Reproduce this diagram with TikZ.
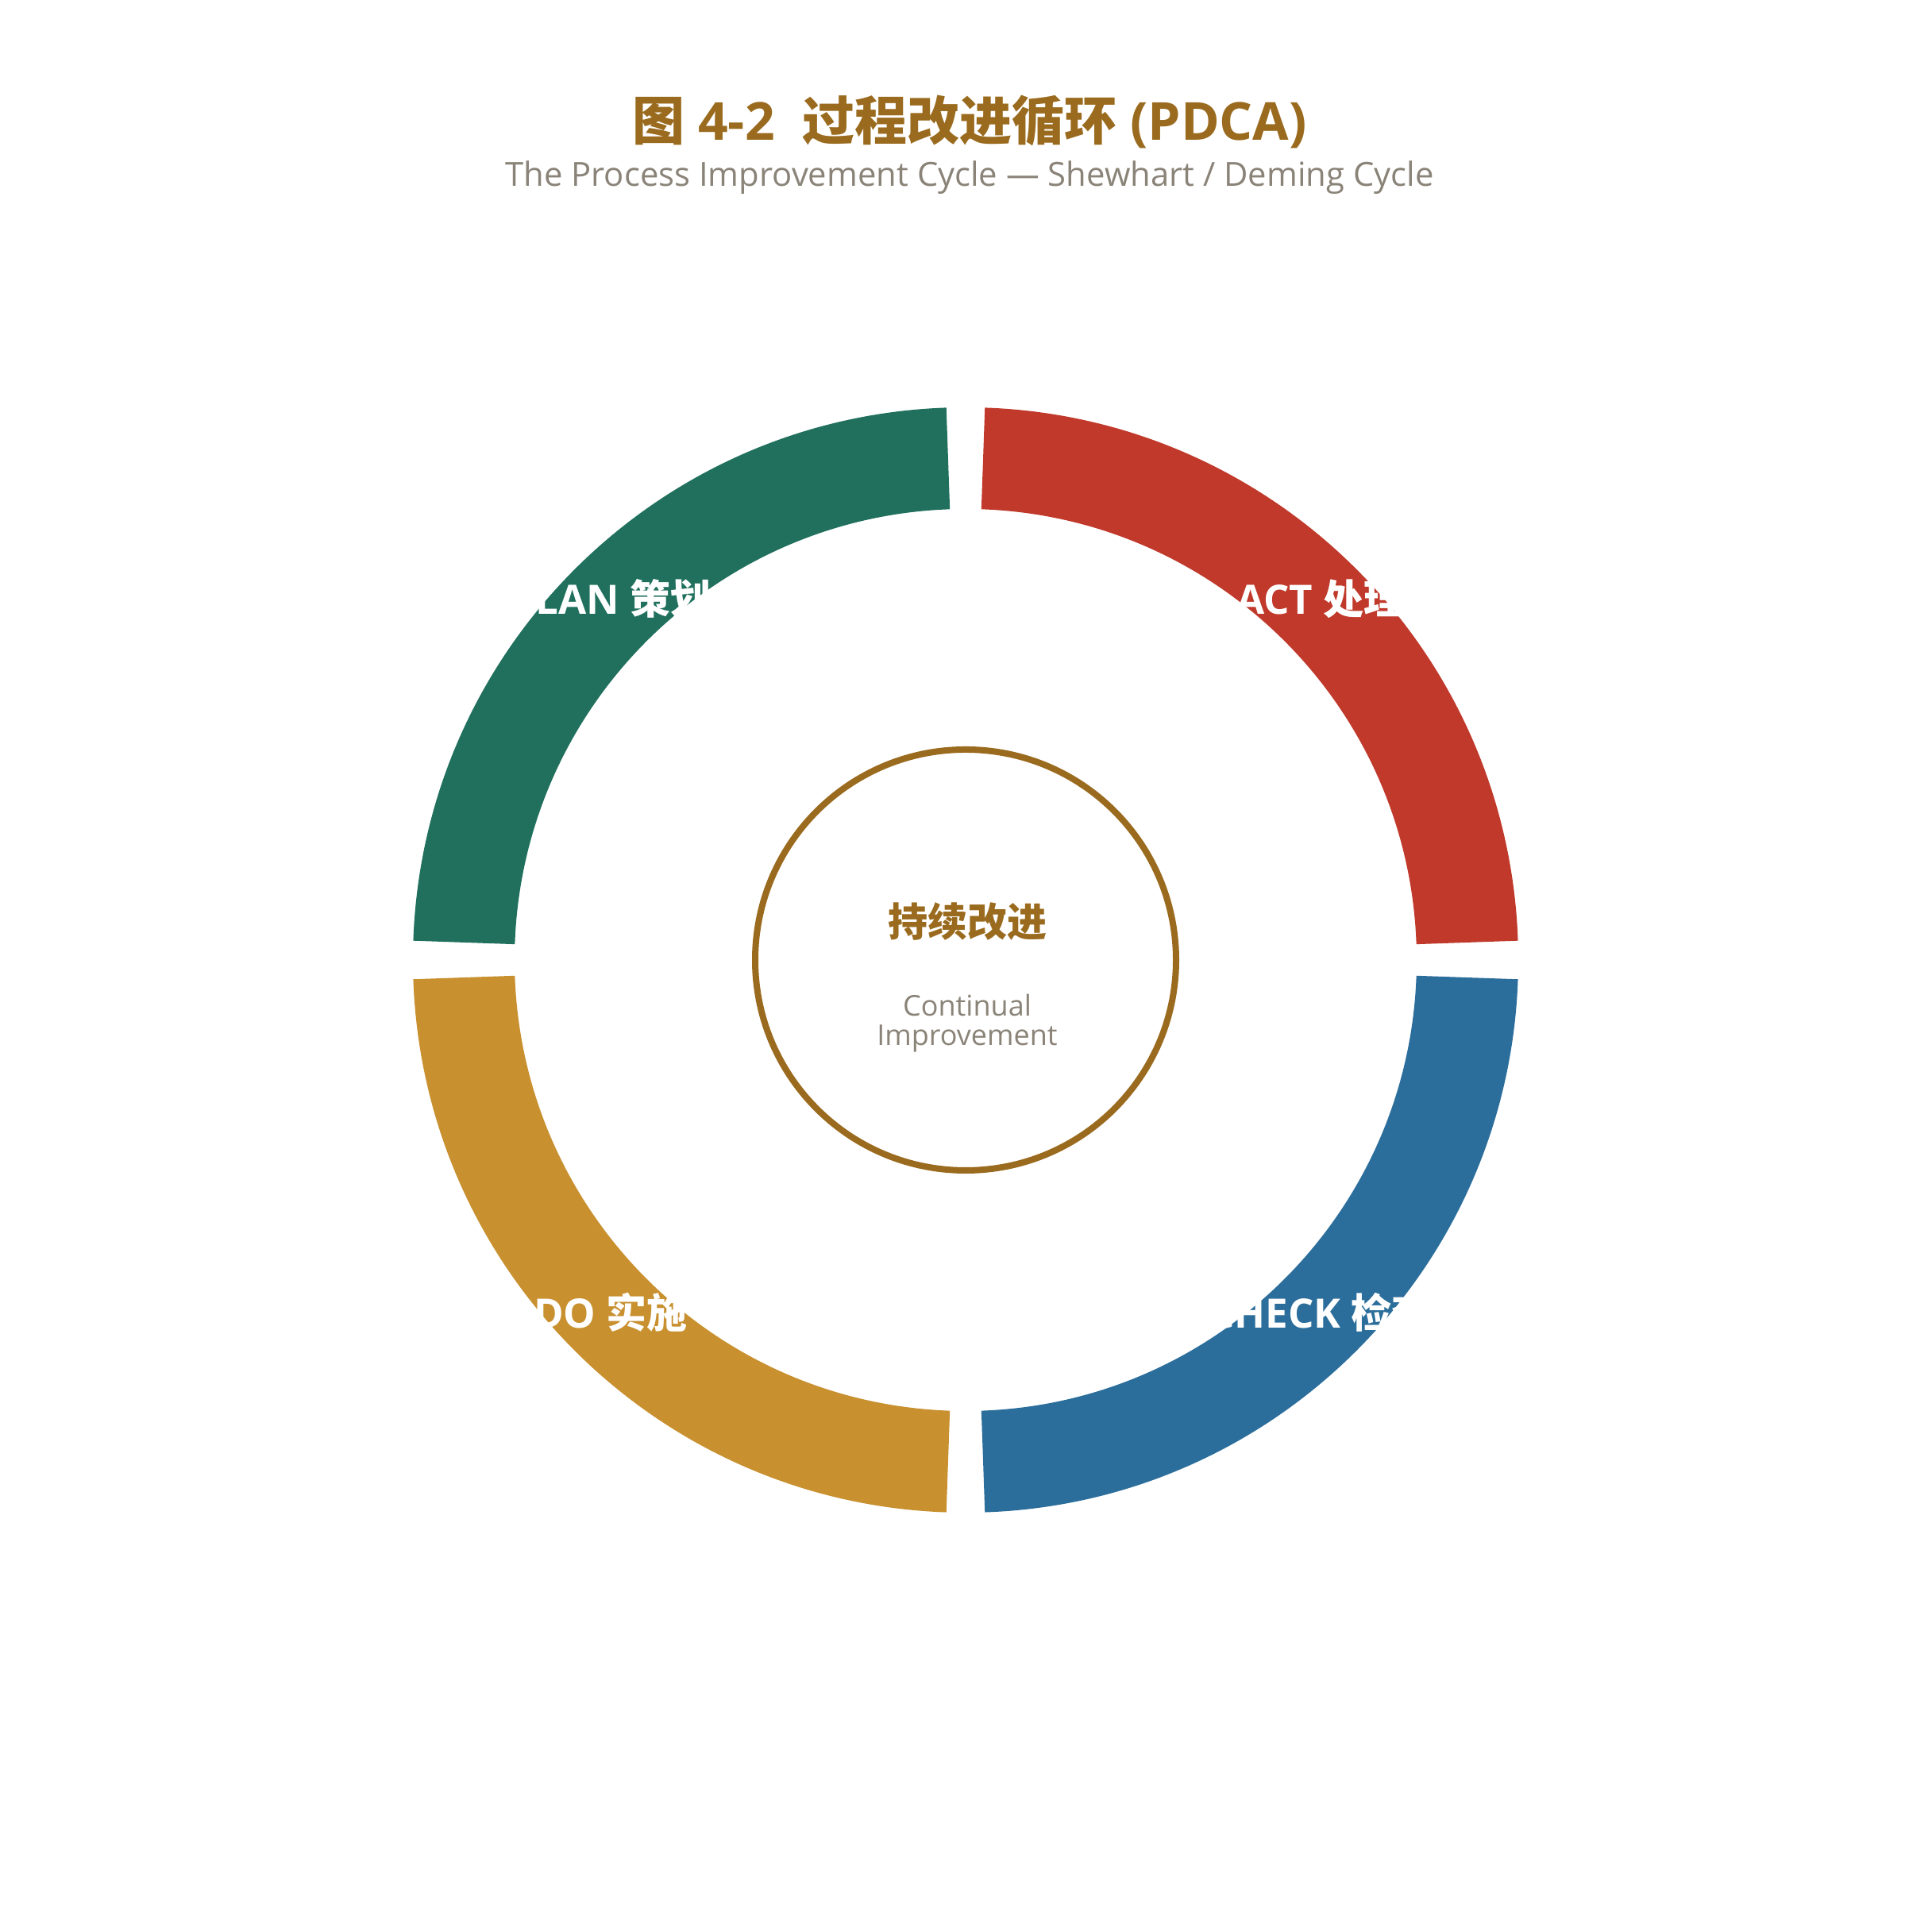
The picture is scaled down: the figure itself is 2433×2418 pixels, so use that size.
\documentclass[tikz,border=0pt]{standalone}
\usepackage{fontspec}
\setmainfont{Open Sans}
\newfontfamily\cjk{Noto Sans CJK SC}
\newfontfamily\lat{Open Sans}
\definecolor{titlebrown}{HTML}{9A6B1E}
\definecolor{subgray}{HTML}{8A8378}
\definecolor{plangreen}{HTML}{20705D}
\definecolor{actred}{HTML}{C0392B}
\definecolor{checkblue}{HTML}{2C6E9B}
\definecolor{dogold}{HTML}{C8902F}
\begin{document}
\begin{tikzpicture}[x=0.5pt,y=0.5pt,
  seglabel/.style={anchor=base,text=white,font=\bfseries\fontsize{25.5pt}{30pt}\selectfont,inner sep=0pt},
  engray/.style={anchor=base,text=subgray,font=\lat\fontsize{18pt}{20pt}\selectfont,inner sep=0pt}
]
\fill[white] (0,0) rectangle (2433,2418);
\useasboundingbox (0,0) rectangle (2433,2418);
\coordinate (c) at (1216,1209);
% ring segments
\fill[actred]    ([shift={(2:348pt)}]c) arc[start angle=2,end angle=88,radius=348pt] -- ([shift={(88:284pt)}]c) arc[start angle=88,end angle=2,radius=284pt] -- cycle;
\fill[plangreen] ([shift={(92:348pt)}]c) arc[start angle=92,end angle=178,radius=348pt] -- ([shift={(178:284pt)}]c) arc[start angle=178,end angle=92,radius=284pt] -- cycle;
\fill[dogold]    ([shift={(182:348pt)}]c) arc[start angle=182,end angle=268,radius=348pt] -- ([shift={(268:284pt)}]c) arc[start angle=268,end angle=182,radius=284pt] -- cycle;
\fill[checkblue] ([shift={(272:348pt)}]c) arc[start angle=272,end angle=358,radius=348pt] -- ([shift={(358:284pt)}]c) arc[start angle=358,end angle=272,radius=284pt] -- cycle;
% segment labels
\node[seglabel] (plan)  at (769,1644) {\lat PLAN {\cjk 策划}};
\node[seglabel] (act)   at (1663,1644) {\lat ACT {\cjk 处理}};
\node[seglabel] (do)    at (769,745) {\lat DO {\cjk 实施}};
\node[seglabel] (check) at (1663,745) {\lat CHECK {\cjk 检查}};
% center circle
\node[circle,draw=titlebrown,line width=4pt,minimum size=265pt,inner sep=0pt] (core) at (c) {};
\node[anchor=base,text=titlebrown,font=\cjk\bfseries\fontsize{25pt}{30pt}\selectfont,inner sep=0pt] (cn) at (1218,1238) {持续改进};
\node[engray] (en1) at (1218,1138) {Continual};
\node[engray] (en2) at (1218,1101) {Improvement};
% title
\node[anchor=base,text=titlebrown,font=\bfseries\fontsize{33pt}{40pt}\selectfont,inner sep=0pt] (title) at (1221,2241) {{\cjk 图} 4-2\ \ {\cjk 过程改进循环} (PDCA)};
\node[anchor=base,text=subgray,font=\lat\fontsize{20.9pt}{24pt}\selectfont,inner sep=0pt] (sub) at (1221,2183) {The Process Improvement Cycle — Shewhart / Deming Cycle};
\end{tikzpicture}
\end{document}
